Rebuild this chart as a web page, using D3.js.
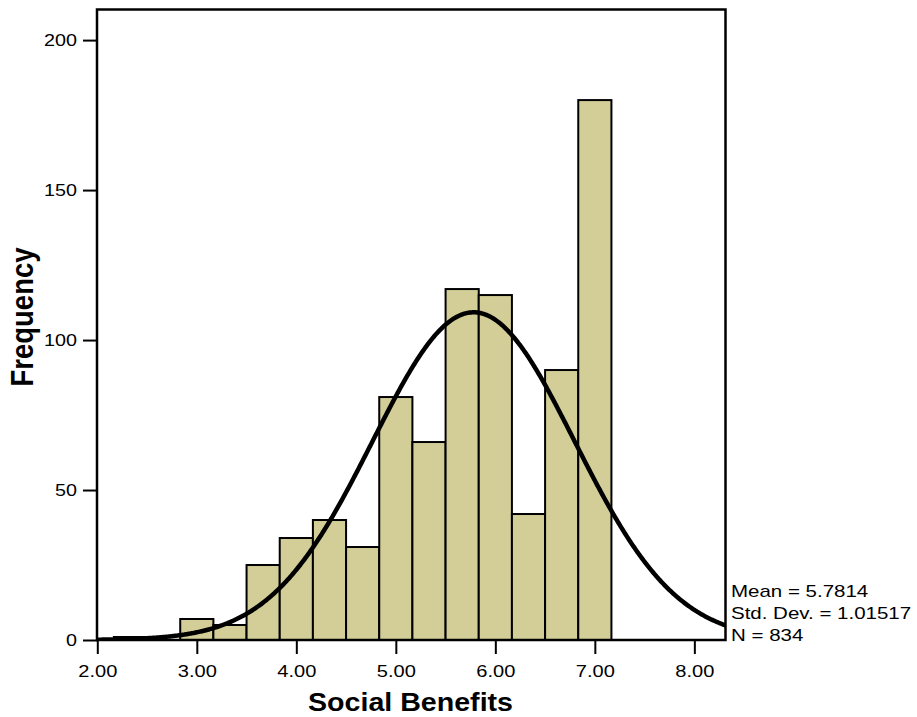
<!DOCTYPE html>
<html>
<head>
<meta charset="utf-8">
<script src="https://cdn.jsdelivr.net/npm/d3@7"></script>
<style>
  html, body { margin: 0; padding: 0; background: #fff; }
  svg { display: block; font-family: "Liberation Sans", Arial, sans-serif; }
</style>
</head>
<body>
<svg id="chart" width="917" height="717"></svg>
<script>
// Histogram of Social Benefits scores (bins of width 1/3) with fitted normal curve
const binMids = [2.3333, 3.0, 3.3333, 3.6667, 4.0, 4.3333, 4.6667, 5.0, 5.3333, 5.6667, 6.0, 6.3333, 6.6667, 7.0];
const counts  = [1, 7, 5, 25, 34, 40, 31, 81, 66, 117, 115, 42, 90, 180];
const binWidth = 1 / 3;

const xTicks = [2, 3, 4, 5, 6, 7, 8];
const yTicks = [0, 50, 100, 150, 200];

const stats = { mean: 5.7814, sd: 1.01517, n: 834 };
const statLines = ["Mean = 5.7814", "Std. Dev. = 1.01517", "N = 834"];

const xTitle = "Social Benefits";
const yTitle = "Frequency";

const plot = { left: 97, right: 725.5, top: 9.5, bottom: 640 };

const svg = d3.select("#chart");

const x = d3.scaleLinear()
  .domain([1.997, 8.313])
  .range([plot.left, plot.right]);

const y = d3.scaleLinear()
  .domain([0, 210.2])
  .range([plot.bottom, plot.top]);

// clip for curve
svg.append("defs").append("clipPath").attr("id", "plotClip")
  .append("rect")
  .attr("x", plot.left).attr("y", plot.top)
  .attr("width", plot.right - plot.left)
  .attr("height", plot.bottom - plot.top);

// bars
svg.append("g").selectAll("rect")
  .data(binMids.map((m, i) => ({ m, c: counts[i] })))
  .join("rect")
  .attr("x", d => x(d.m - binWidth / 2))
  .attr("width", d => x(d.m + binWidth / 2) - x(d.m - binWidth / 2))
  .attr("y", d => y(d.c))
  .attr("height", d => y(0) - y(d.c))
  .attr("fill", "#d3ce97")
  .attr("stroke", "#000")
  .attr("stroke-width", 2);

// normal curve scaled to counts: N * binWidth * pdf(x)
const pdf = v => Math.exp(-0.5 * Math.pow((v - stats.mean) / stats.sd, 2)) / (stats.sd * Math.sqrt(2 * Math.PI));
const curveXs = d3.range(1.99, 8.33, 0.01);
svg.append("path")
  .datum(curveXs)
  .attr("clip-path", "url(#plotClip)")
  .attr("fill", "none")
  .attr("stroke", "#000")
  .attr("stroke-width", 4.5)
  .attr("d", d3.line().x(v => x(v)).y(v => y(stats.n * binWidth * pdf(v))));

// frame
svg.append("rect")
  .attr("x", plot.left).attr("y", plot.top)
  .attr("width", plot.right - plot.left)
  .attr("height", plot.bottom - plot.top)
  .attr("fill", "none")
  .attr("stroke", "#000")
  .attr("stroke-width", 2.5);

// x axis ticks and labels
const xAxis = svg.append("g").attr("transform", `translate(0,${plot.bottom})`)
  .call(d3.axisBottom(x).tickValues(xTicks).tickSize(14).tickSizeOuter(0).tickPadding(0).tickFormat(d3.format(".2f")));
xAxis.select(".domain").remove();
xAxis.selectAll(".tick line").attr("stroke-width", 2);
xAxis.selectAll(".tick text")
  .attr("font-size", 16.6)
  .attr("fill", "#000")
  .attr("y", 0)
  .attr("dy", 0)
  .attr("transform", "translate(0,37) scale(1.21,1)");

// y axis ticks and labels
const yAxis = svg.append("g").attr("transform", `translate(${plot.left},0)`)
  .call(d3.axisLeft(y).tickValues(yTicks).tickSize(14).tickSizeOuter(0).tickPadding(0));
yAxis.select(".domain").remove();
yAxis.selectAll(".tick line").attr("stroke-width", 2);
yAxis.selectAll(".tick text")
  .attr("font-size", 16.6)
  .attr("fill", "#000")
  .attr("x", 0)
  .attr("dy", "0.34em")
  .attr("transform", "translate(-20,0) scale(1.19,1)");

// axis titles
svg.append("text")
  .attr("transform", "translate(410.5,711) scale(1.1,1)")
  .attr("text-anchor", "middle")
  .attr("font-size", 26)
  .attr("font-weight", "bold")
  .attr("fill", "#000")
  .text(xTitle);

svg.append("text")
  .attr("transform", "translate(33,317) scale(1.11,1) rotate(-90)")
  .attr("text-anchor", "middle")
  .attr("font-size", 27.5)
  .attr("font-weight", "bold")
  .attr("fill", "#000")
  .text(yTitle);

// summary statistics
svg.append("g").selectAll("text")
  .data(statLines)
  .join("text")
  .attr("transform", (d, i) => `translate(731,${597 + i * 22}) scale(1.25,1)`)
  .attr("font-size", 16.4)
  .attr("fill", "#000")
  .text(d => d);
</script>
</body>
</html>
